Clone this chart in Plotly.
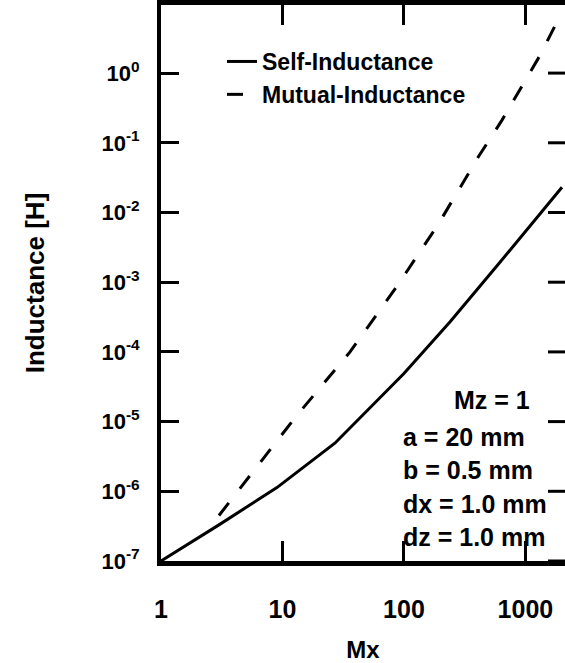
import plotly.graph_objects as go

# Data
mx_self = [1, 3, 9, 27, 100, 240, 620, 2000]
l_self = [1.0e-7, 3.3e-7, 1.13e-6, 4.9e-6, 4.9e-5, 2.7e-4, 1.95e-3, 2.3e-2]

mx_mutual = [3, 13, 36, 87, 190, 410, 640, 1320, 2000]
l_mutual = [4.5e-7, 1.2e-5, 1.0e-4, 8.6e-4, 6.6e-3, 6.3e-2, 0.21, 1.8, 7.5]

x_ticks = [1, 10, 100, 1000]
x_ticktext = ["1", "10", "100", "1000"]
y_exps = [-7, -6, -5, -4, -3, -2, -1, 0]
y_ticks = [10.0 ** e for e in y_exps]
y_ticktext = ["10<sup>%d</sup>" % e for e in y_exps]

params = ["a = 20 mm", "b = 0.5 mm", "dx = 1.0 mm", "dz = 1.0 mm"]

FONT = "Liberation Sans"
W, H = 565, 663
L, R, T, B = 161, 0, 5, 102
PW, PH = W - L - R, H - T - B
YRANGE = [-7, 0.977]

def px(xp):
    return (xp - L) / PW

def py(yp):
    return (H - B - yp) / PH

fig = go.Figure()
fig.add_trace(go.Scatter(x=mx_self, y=l_self, mode="lines", name="Self-Inductance",
                         line=dict(color="black", width=3)))
fig.add_trace(go.Scatter(x=mx_mutual, y=l_mutual, mode="lines", name="Mutual-Inductance",
                         line=dict(color="black", width=3, dash="16px,18px")))

fig.update_layout(
    width=W, height=H,
    margin=dict(l=L, r=R, t=T, b=B, autoexpand=False),
    paper_bgcolor="white", plot_bgcolor="white",
    font=dict(family=FONT, color="black"),
    xaxis=dict(type="log", range=[0, 3.326], tickvals=x_ticks, ticktext=x_ticktext,
               ticks="inside", ticklen=20, tickwidth=3, tickcolor="black",
               showline=True, linewidth=5, linecolor="black", mirror="ticks",
               showgrid=False, zeroline=False, automargin=False,
               tickfont=dict(size=25, family=FONT, weight="bold"), ticklabelstandoff=22,
               title=dict(text="Mx", font=dict(size=24, family=FONT, weight="bold"), standoff=28)),
    yaxis=dict(type="log", range=YRANGE, tickvals=y_ticks, ticktext=y_ticktext,
               ticks="inside", ticklen=18, tickwidth=3, tickcolor="black",
               showline=True, linewidth=4, linecolor="black", mirror=False,
               showgrid=False, zeroline=False, automargin=False,
               tickfont=dict(size=22, family=FONT, weight="bold"), ticklabelstandoff=13,
               title=dict(text="Inductance [H]", font=dict(size=26, family=FONT, weight="bold"),
                          standoff=50)),
    legend=dict(x=px(222), y=py(40), xanchor="left", yanchor="top",
                bgcolor="rgba(0,0,0,0)", borderwidth=0,
                font=dict(size=23, family=FONT, weight="bold")),
    showlegend=True,
)

# right-hand inward ticks (no right border line in the reference)
for e in y_exps:
    yf = (e - YRANGE[0]) / (YRANGE[1] - YRANGE[0])
    fig.add_shape(type="line", xref="paper", yref="paper", x0=1 - 17 / PW, x1=1,
                  y0=yf, y1=yf, line=dict(color="black", width=3))

fig.add_annotation(x=px(452), y=py(400), xref="paper", yref="paper", text="Mz = 1",
                   showarrow=False, xanchor="left", yanchor="middle",
                   font=dict(size=25, family=FONT, weight="bold"))
for i, t in enumerate(params):
    fig.add_annotation(x=px(401), y=py(436.5 + i * 33.5), xref="paper", yref="paper", text=t,
                       showarrow=False, xanchor="left", yanchor="middle",
                       font=dict(size=25, family=FONT, weight="bold"))

fig.write_html("out.html")
